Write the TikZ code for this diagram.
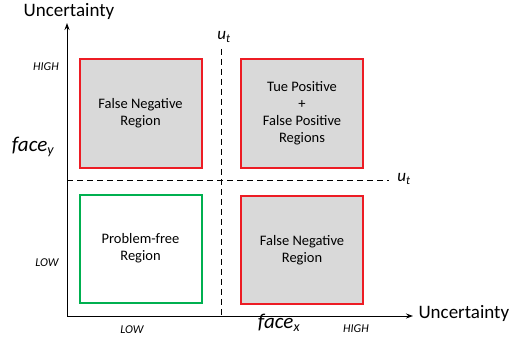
\documentclass[tikz,border=0pt]{standalone}
\usepackage{fontspec}
\setmainfont{Carlito}
\usetikzlibrary{arrows.meta}
\definecolor{boxred}{RGB}{237,28,36}
\definecolor{boxgreen}{RGB}{0,176,80}
\definecolor{boxgray}{RGB}{217,217,217}
\begin{document}
\begin{tikzpicture}[x=1pt,y=-1pt,
  region/.style={draw=boxred,line width=2pt,fill=boxgray,minimum width=122pt,minimum height=108pt,align=center,font=\fontsize{14.5}{17}\selectfont,inner sep=0pt},
  okregion/.style={region,draw=boxgreen,fill=white},
  axis/.style={line width=1pt,-{Stealth[length=7pt,width=5pt]}},
  thresh/.style={line width=1pt,dash pattern=on 6pt off 4pt},
  tick/.style={font=\fontsize{12}{14}\selectfont\itshape},
  axlabel/.style={font=\fontsize{19}{22}\selectfont}]
\useasboundingbox (0,0) rectangle (510,339);
\coordinate (o) at (67,316);
\coordinate (ytip) at (67,23);
\coordinate (xtip) at (413,316);
\draw[axis] (o) -- (ytip);
\draw[axis] (o) -- (xtip);
\node[axlabel,anchor=center] (ylab) at (69,11) {Uncertainty};
\node[axlabel,anchor=west] (xlab) at (415,313) {Uncertainty};
% threshold lines
\coordinate (vtop) at (221,49);
\coordinate (vbot) at (221,316);
\coordinate (hl) at (67,180);
\coordinate (hr) at (389,180);
\draw[thresh] (vtop) -- (vbot);
\draw[thresh] (hl) -- (hr);
\node[font=\fontsize{17}{19}\selectfont] (utv) at (224,37) {\textit{u}\textsubscript{\fontsize{12}{13}\selectfont\textit{t}}};
\node[font=\fontsize{17}{19}\selectfont] (uth) at (404,179) {\textit{u}\textsubscript{\fontsize{12}{13}\selectfont\textit{t}}};
% regions
\node[region] (tl) at (140.5,113.5) {False Negative\\Region};
\node[region] (tr) at (302,113.5) {Tue Positive\\+\\False Positive\\Regions};
\node[okregion] (bl) at (140.5,248.5) {Problem-free\\Region};
\node[region] (br) at (302,250) {False Negative\\Region};
% tick labels
\node[tick] (yhigh) at (46,67) {HIGH};
\node[tick] (ylow) at (47,263) {LOW};
\node[tick] (xlow) at (132,330) {LOW};
\node[tick] (xhigh) at (356,329) {HIGH};
\node[font=\fontsize{21}{23}\selectfont\itshape] (facey) at (33,147) {face\textsubscript{\fontsize{14}{15}\selectfont y}};
\node[font=\fontsize{21}{23}\selectfont\itshape] (facex) at (279,323) {face\textsubscript{\fontsize{14}{15}\selectfont x}};
\end{tikzpicture}
\end{document}
